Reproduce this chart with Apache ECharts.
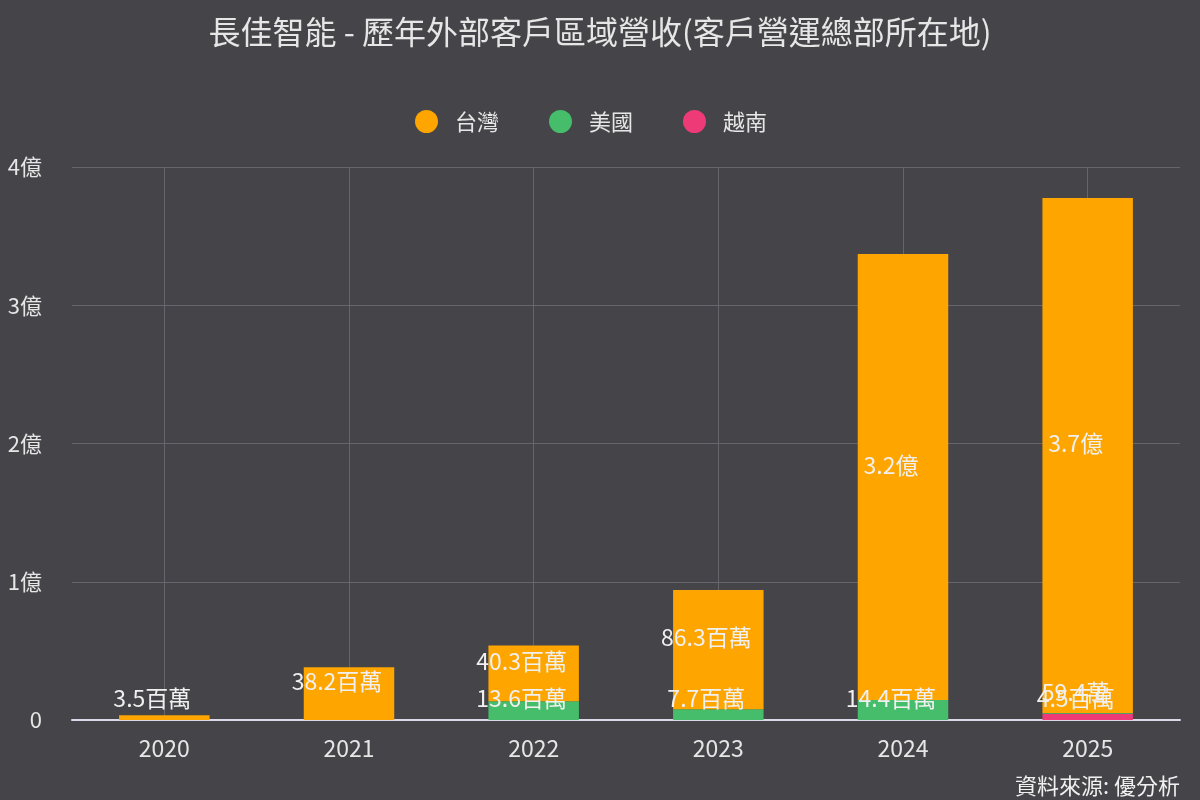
<!DOCTYPE html>
<html>
<head>
<meta charset="utf-8">
<script src="https://cdn.jsdelivr.net/npm/echarts@6/dist/echarts.min.js"></script>
<style>
    html, body { margin: 0; padding: 0; background: #454449; }
    #main { width: 1200px; height: 800px; }
</style>
</head>
<body>
<div id="main"></div>
<script>
    // 數值單位: 百萬
    var years = ['2020', '2021', '2022', '2023', '2024', '2025'];
    var taiwan = [3.5, 38.2, 40.3, 86.3, 322.6, 372.4];
    var usa = [0, 0, 13.6, 7.7, 14.4, 0.594];
    var vietnam = [0, 0, 0, 0, 0, 4.5];
    var yTicks = [0, 100, 200, 300, 400];

    var font = '"Noto Sans CJK TC", "Noto Sans", sans-serif';

    function fmtValue(v) {
        if (!v) return '';
        if (v >= 100) return (v / 100).toFixed(1) + '億';
        if (v >= 1) return v.toFixed(1) + '百萬';
        return (v * 100).toFixed(1) + '萬';
    }

    function makeLabel(pos, off) {
        return {
            show: true,
            position: pos,
            offset: off,
            color: '#f0f0f0',
            fontSize: 23,
            fontFamily: font,
            formatter: function (p) { return fmtValue(p.value); }
        };
    }
    var midLabel = makeLabel('inside', [-12, -12]);
    var lowLabel = makeLabel('insideBottom', [-12, -5]);

    // 很小的柱子標籤貼近底部
    function withSmallLabels(arr) {
        return arr.map(function (v) {
            return v < 20 ? { value: v, label: lowLabel } : v;
        });
    }

    var myChart = echarts.init(document.getElementById('main'));

    var option = {
        backgroundColor: '#454449',
        title: {
            text: '長佳智能 - 歷年外部客戶區域營收(客戶營運總部所在地)',
            left: 'center',
            top: 11,
            textStyle: { color: '#e6e6e6', fontSize: 32, fontWeight: 'normal', fontFamily: font }
        },
        legend: {
            data: ['台灣', '美國', '越南'],
            top: 105,
            left: 410,
            icon: 'circle',
            itemWidth: 23,
            itemHeight: 23,
            itemGap: 50,
            textStyle: { color: '#e6e6e6', fontSize: 22, fontFamily: font, padding: [0, 0, 0, 12] }
        },
        grid: { left: 72, right: 20, top: 167, bottom: 80, containLabel: false },
        xAxis: {
            type: 'category',
            data: years,
            axisLine: { lineStyle: { color: '#d8d8e8', width: 2 } },
            axisTick: { show: false },
            axisLabel: { color: '#e6e6e6', fontSize: 23, fontFamily: font, margin: 17 },
            splitLine: { show: true, alignWithLabel: true, lineStyle: { color: '#66656b', width: 1 } }
        },
        yAxis: {
            type: 'value',
            min: yTicks[0],
            max: yTicks[yTicks.length - 1],
            interval: 100,
            axisLine: { show: false },
            axisTick: { show: false },
            axisLabel: {
                color: '#e6e6e6', fontSize: 22, fontFamily: font, margin: 30,
                formatter: function (v) { return v === 0 ? '0' : (v / 100) + '億'; }
            },
            splitLine: { lineStyle: { color: '#66656b', width: 1 } }
        },
        graphic: [{
            type: 'text',
            right: 20,
            bottom: 3,
            style: { text: '資料來源: 優分析', fill: '#f0f0f0', fontSize: 22, fontFamily: font }
        }],
        series: [
            { name: '越南', type: 'bar', stack: 'total', barWidth: '49%', data: withSmallLabels(vietnam),
              itemStyle: { color: '#ee3b78' }, label: midLabel },
            { name: '美國', type: 'bar', stack: 'total', barWidth: '49%', data: withSmallLabels(usa),
              itemStyle: { color: '#45bd6a' }, label: midLabel },
            { name: '台灣', type: 'bar', stack: 'total', barWidth: '49%', data: withSmallLabels(taiwan),
              itemStyle: { color: '#ffa500' }, label: midLabel }
        ]
    };

    myChart.setOption(option);
</script>
</body>
</html>
